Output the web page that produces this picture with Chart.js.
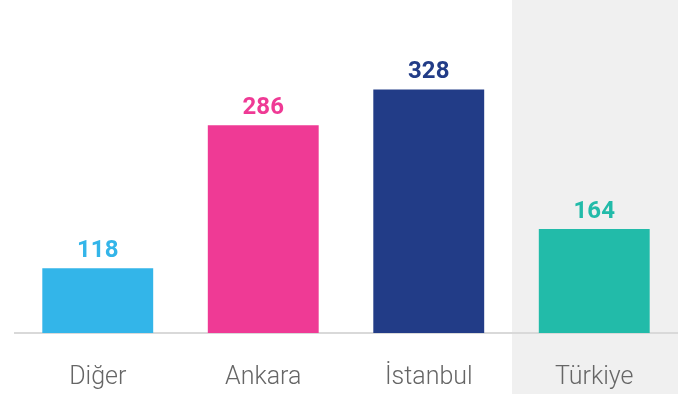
<!DOCTYPE html>
<html><head><meta charset="utf-8">
<script src="https://cdn.jsdelivr.net/npm/chart.js@4/dist/chart.umd.min.js"></script>
<style>html,body{margin:0;padding:0;background:#fff}#wrap{width:691px;height:401px}</style>
</head><body><div id="wrap"><canvas id="c" width="691" height="401"></canvas></div>
<script>
const categories = ["Diğer", "Ankara", "İstanbul", "Türkiye"];
const values = [118, 286, 328, 164];
const barColors = ["#33B5E9", "#EF3A95", "#223C87", "#22BBA9"];
const highlightIndex = 3;

const panelPlugin = {
  id: 'panel',
  beforeDraw(chart) {
    const ctx = chart.ctx, x = chart.scales.x;
    const w = (x.right - x.left) / categories.length;
    const cx = x.getPixelForValue(highlightIndex);
    ctx.save();
    ctx.fillStyle = '#F0F0F0';
    ctx.fillRect(Math.round(cx - w / 2), 0, Math.round(w), 394);
    ctx.restore();
  }
};
const valueLabels = {
  id: 'valueLabels',
  afterDatasetsDraw(chart) {
    const ctx = chart.ctx;
    const meta = chart.getDatasetMeta(0);
    ctx.save();
    ctx.font = 'bold 24px Roboto, "Liberation Sans", sans-serif';
    ctx.textAlign = 'center';
    ctx.textBaseline = 'alphabetic';
    meta.data.forEach((bar, i) => {
      ctx.fillStyle = barColors[i];
      ctx.fillText(String(values[i]), bar.x, bar.y - 11);
    });
    ctx.restore();
  }
};

new Chart(document.getElementById('c'), {
  type: 'bar',
  data: { labels: categories, datasets: [{ data: values, backgroundColor: barColors, borderWidth: 0, barPercentage: 1, categoryPercentage: 0.67 }] },
  options: {
    responsive: false, animation: false,
    layout: { padding: { left: 15, right: 14, top: 0, bottom: 0 } },
    plugins: { legend: { display: false }, tooltip: { enabled: false } },
    scales: {
      x: {
        grid: { display: false },
        border: { display: true, color: '#D9D9D9', width: 2 },
        ticks: { color: '#666666', font: { family: 'Roboto', size: 25, weight: 300 }, padding: 22 },
        afterFit(scale) { scale.height = 68; }
      },
      y: { display: false, min: 42, max: 433 }
    }
  },
  plugins: [panelPlugin, valueLabels]
});
</script></body></html>
